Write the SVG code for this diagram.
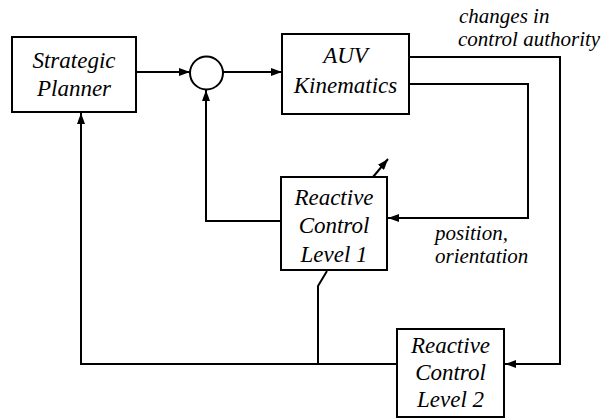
<svg xmlns="http://www.w3.org/2000/svg" width="607" height="418" viewBox="0 0 607 418">
<defs>
<marker id="ah" viewBox="0 0 11 8" refX="11" refY="4" markerWidth="11" markerHeight="8" markerUnits="userSpaceOnUse" orient="auto">
<path d="M0,0 L11,4 L0,8 Z" fill="#000"/>
</marker>
</defs>
<rect width="607" height="418" fill="#fff"/>
<g id="connectors" fill="none" stroke="#000" stroke-width="2">
<line x1="136" y1="72" x2="190" y2="72" marker-end="url(#ah)"/>
<line x1="223" y1="72" x2="282" y2="72" marker-end="url(#ah)"/>
<path d="M409,57 H560 V364 H505" marker-end="url(#ah)"/>
<path d="M409,84 H528 V218 H388" marker-end="url(#ah)"/>
<path d="M281,221 H206 V90" marker-end="url(#ah)"/>
<line x1="373" y1="177" x2="388" y2="159" marker-end="url(#ah)"/>
<path d="M327,271 L318,286 V364"/>
<path d="M397,364 H81 V113" marker-end="url(#ah)"/>
</g>
<g id="labels">
<text font-family="Liberation Serif" font-style="italic" font-size="21" x="459" y="23">changes in</text>
<text font-family="Liberation Serif" font-style="italic" font-size="21" x="458" y="46">control authority</text>
<text font-family="Liberation Serif" font-style="italic" font-size="21" x="435" y="240">position,</text>
<text font-family="Liberation Serif" font-style="italic" font-size="21" x="435" y="263">orientation</text>
</g>
<g id="strategic-planner">
<rect x="12" y="37" width="124" height="75" fill="#fff" stroke="#000" stroke-width="2"/>
<text font-family="Liberation Serif" font-style="italic" font-size="23" text-anchor="middle" x="74" y="68">Strategic</text>
<text font-family="Liberation Serif" font-style="italic" font-size="23" text-anchor="middle" x="74" y="96">Planner</text>
</g>
<g id="summing-junction">
<circle cx="206.5" cy="73" r="16.5" fill="#fff" stroke="#000" stroke-width="2"/>
</g>
<g id="auv-kinematics">
<rect x="282" y="34" width="127" height="80" fill="#fff" stroke="#000" stroke-width="2"/>
<text font-family="Liberation Serif" font-style="italic" font-size="23" text-anchor="middle" x="345.5" y="63">AUV</text>
<text font-family="Liberation Serif" font-style="italic" font-size="23" text-anchor="middle" x="345.5" y="93">Kinematics</text>
</g>
<g id="reactive-control-1">
<rect x="281" y="177" width="106" height="93" fill="#fff" stroke="#000" stroke-width="2"/>
<text font-family="Liberation Serif" font-style="italic" font-size="23" text-anchor="middle" x="334" y="205">Reactive</text>
<text font-family="Liberation Serif" font-style="italic" font-size="23" text-anchor="middle" x="334" y="233">Control</text>
<text font-family="Liberation Serif" font-style="italic" font-size="23" text-anchor="middle" x="334" y="262">Level 1</text>
</g>
<g id="reactive-control-2">
<rect x="397" y="329" width="107" height="88" fill="#fff" stroke="#000" stroke-width="2"/>
<text font-family="Liberation Serif" font-style="italic" font-size="23" text-anchor="middle" x="450.5" y="353">Reactive</text>
<text font-family="Liberation Serif" font-style="italic" font-size="23" text-anchor="middle" x="450.5" y="380">Control</text>
<text font-family="Liberation Serif" font-style="italic" font-size="23" text-anchor="middle" x="450.5" y="407">Level 2</text>
</g>
</svg>
